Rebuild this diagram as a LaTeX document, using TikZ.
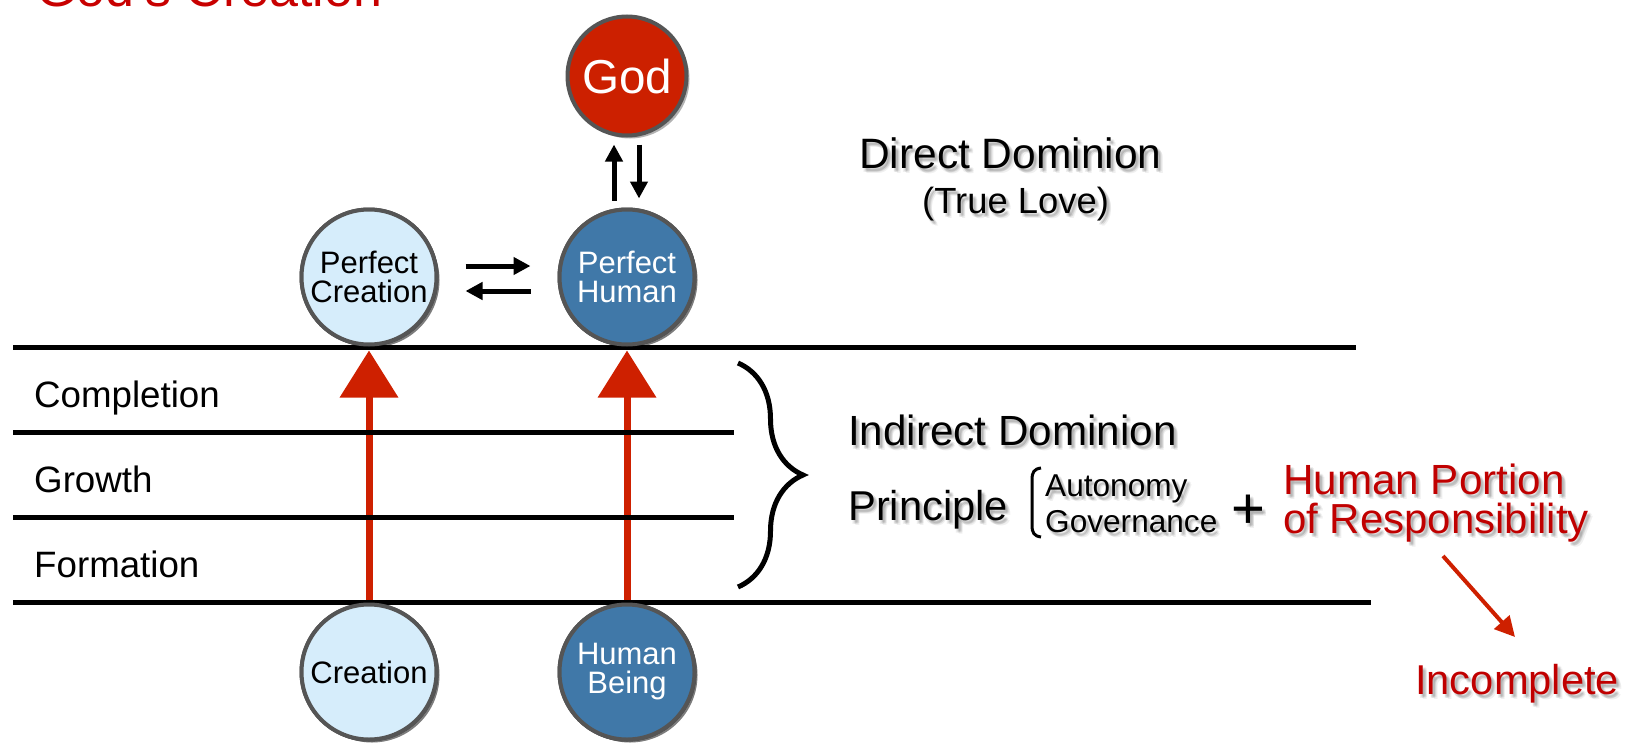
\documentclass[tikz,border=0pt]{standalone}
\usepackage{fontspec}
\setmainfont{Liberation Sans}
\usetikzlibrary{arrows.meta,shadows,decorations.pathreplacing}
\definecolor{titlered}{RGB}{200,0,0}
\definecolor{godred}{RGB}{204,32,0}
\definecolor{arrowred}{RGB}{206,32,0}
\definecolor{txtred}{RGB}{192,0,0}
\definecolor{darkblue}{RGB}{64,120,168}
\definecolor{lightblue}{RGB}{214,237,251}
\definecolor{rim}{RGB}{85,85,85}
\newcommand\fs[2]{\fontsize{#1}{#2}\selectfont}
% soft text shadow, then the text itself
\newcommand\shtxt[4]{%
  \foreach \dx/\dy in {2/-3,4/-3,3/-2,3/-4.5,4.5/-5,1.5/-4}{%
    \node[#1, text=black, opacity=0.06] at ([shift={(\dx pt,\dy pt)}]#2) {#4};}%
  \node[#1] (#3) at (#2) {#4};}
\begin{document}
\begin{tikzpicture}[x=1pt,y=-1pt,
  ball/.style={circle, draw=rim, line width=4pt, inner sep=0pt, minimum size=135pt,
    align=center, drop shadow={shadow xshift=3pt,shadow yshift=-3pt,opacity=0.3,fill=black}},
  light/.style={ball, fill=lightblue, text=black},
  dark/.style={ball, fill=darkblue, text=white},
  level/.style={line width=5pt, draw=black},
  lbl/.style={anchor=base west, inner sep=0pt, font=\fs{36.7}{40}},
  rtxt/.style={anchor=base west, inner sep=0pt},
  redarrow/.style={draw=arrowred, line width=7pt, -{Triangle[length=47pt,width=57pt]}},
  blackarrow/.style={draw=black, line width=5pt, -{Triangle[length=17pt,width=17pt]}},
]
\useasboundingbox (0,0) rectangle (1625,744);
\clip (0,0) rectangle (1625,744);

% title (cut off at the top)
\node[anchor=base west, inner sep=0pt, text=titlered, font=\fs{52}{56}] (title) at (36,6.5) {God's Creation};

% circle centres
\coordinate (cPC) at (369,277);
\coordinate (cPH) at (627,277);
\coordinate (cC) at (369,672);
\coordinate (cHB) at (627,672);

% level labels
\node[lbl] (compl) at (34,407) {Completion};
\node[lbl] (growth) at (34,492) {Growth};
\node[lbl] (form) at (34,577) {Formation};

% circles
\node[light, font=\fs{31}{29}] (pcre) at (cPC) {Perfect\\Creation};
\node[dark, font=\fs{31}{29}] (phum) at (cPH) {Perfect\\Human};
\node[light, font=\fs{31}{29}] (cre) at (cC) {Creation};
\node[dark, font=\fs{31}{29}] (hb) at (cHB) {Human\\Being};
\node[ball, fill=godred, text=white, minimum size=119pt, font=\fs{47.6}{50}] (god) at (627,76) {God};

% red growth arrows
\draw[redarrow, shorten >=4pt, shorten <=1pt] (cre.north) -- (pcre.south);
\draw[redarrow, shorten >=4pt, shorten <=1pt] (hb.north) -- (phum.south);

% level lines
\draw[level] (13,347) -- (1356,347);
\draw[level] (13,432) -- (734,432);
\draw[level] (13,517) -- (734,517);
\draw[level] (13,602) -- (1371,602);

% circles again, over the lines
\node[light, font=\fs{31}{29}] at (cPC) {Perfect\\Creation};
\node[dark, font=\fs{31}{29}] at (cPH) {Perfect\\Human};
\node[light, font=\fs{31}{29}] at (cC) {Creation};
\node[dark, font=\fs{31}{29}] at (cHB) {Human\\Being};

% black give-and-take arrows
\draw[blackarrow, shorten <=27pt, shorten >=27pt] ([yshift=11pt]pcre.east) -- ([yshift=11pt]phum.west);
\draw[blackarrow, shorten <=27pt, shorten >=27pt] ([yshift=-14pt]phum.west) -- ([yshift=-14pt]pcre.east);
\draw[blackarrow, shorten <=7pt, shorten >=7pt] ([xshift=-13pt]phum.north) -- ([xshift=-13pt]god.south);
\draw[blackarrow, shorten <=7pt, shorten >=9pt] ([xshift=12pt]god.south) -- ([xshift=12pt]phum.north);

% brace
\draw[line width=5pt, decorate, decoration={brace, amplitude=65pt}] (738,363) -- (738,587);

% right-side texts
\shtxt{rtxt, font=\fs{42.5}{46}}{859,168}{dd}{Direct Dominion}
\shtxt{rtxt, font=\fs{36.4}{40}}{922,213}{tl}{(True Love)}
\shtxt{rtxt, font=\fs{42.2}{46}}{848,445}{idd}{Indirect Dominion}
\shtxt{rtxt, font=\fs{41.7}{46}}{848,520}{prin}{Principle}
\shtxt{rtxt, font=\fs{31.6}{36}}{1045,496}{auto}{Autonomy}
\shtxt{rtxt, font=\fs{31.6}{36}}{1045,532}{gov}{Governance}
\shtxt{rtxt, font=\fs{58}{60}}{1231,528}{plus}{+}
\shtxt{rtxt, text=txtred, font=\fs{42.2}{46}}{1283,494}{hp}{Human Portion}
\shtxt{rtxt, text=txtred, font=\fs{42}{46}}{1283,533}{resp}{of Responsibility}
\shtxt{rtxt, text=txtred, font=\fs{41.7}{46}}{1415,694}{inc}{Incomplete}

% small bracket
\draw[line width=3pt] (1041,468) .. controls (1034,469) and (1032,472) .. (1032,480)
  -- (1032,525) .. controls (1032,533) and (1034,536) .. (1041,537);

% incomplete arrow
\coordinate (ia) at (1443,556);
\coordinate (ib) at (1515,637);
\draw[line width=4pt, draw=arrowred, -{Triangle[length=20pt,width=20pt]}] (ia) -- (ib);
\end{tikzpicture}
\end{document}
